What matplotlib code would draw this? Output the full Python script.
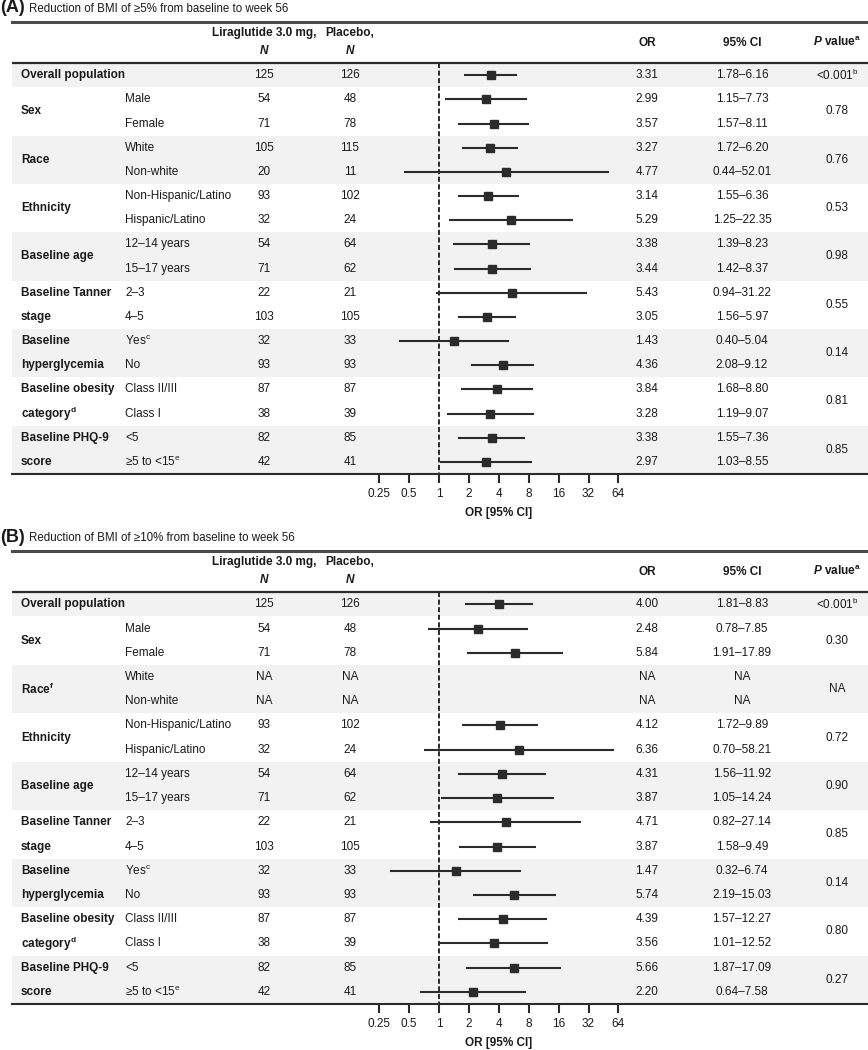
import numpy as np
import matplotlib.pyplot as plt
from matplotlib.ticker import NullLocator

plt.rcParams['font.family'] = ['Liberation Sans', 'DejaVu Sans']
plt.rcParams['mathtext.fontset'] = 'custom'
plt.rcParams['mathtext.rm'] = 'Liberation Sans'
plt.rcParams['mathtext.it'] = 'Liberation Sans:italic:bold'
plt.rcParams['mathtext.bf'] = 'Liberation Sans:bold'

# ---- data ----
groups_a = ["Overall population", "Sex", "Race", "Ethnicity", "Baseline age",
            "Baseline Tanner\nstage", "Baseline\nhyperglycemia",
            "Baseline obesity\ncategory$^{\\mathregular{d}}$", "Baseline PHQ-9\nscore"]
groups_b = ["Overall population", "Sex", "Race$^{\\mathregular{f}}$", "Ethnicity", "Baseline age",
            "Baseline Tanner\nstage", "Baseline\nhyperglycemia",
            "Baseline obesity\ncategory$^{\\mathregular{d}}$", "Baseline PHQ-9\nscore"]
subgroups = ["", "Male", "Female", "White", "Non-white", "Non-Hispanic/Latino",
             "Hispanic/Latino", "12–14 years", "15–17 years", "2–3", "4–5",
             "Yes$^{\\mathregular{c}}$", "No", "Class II/III", "Class I", "<5",
             "≥5 to <15$^{\\mathregular{e}}$"]

lira_n_a = [125, 54, 71, 105, 20, 93, 32, 54, 71, 22, 103, 32, 93, 87, 38, 82, 42]
pbo_n_a = [126, 48, 78, 115, 11, 102, 24, 64, 62, 21, 105, 33, 93, 87, 39, 85, 41]
or_a = [3.31, 2.99, 3.57, 3.27, 4.77, 3.14, 5.29, 3.38, 3.44, 5.43, 3.05, 1.43, 4.36, 3.84, 3.28, 3.38, 2.97]
lo_a = [1.78, 1.15, 1.57, 1.72, 0.44, 1.55, 1.25, 1.39, 1.42, 0.94, 1.56, 0.40, 2.08, 1.68, 1.19, 1.55, 1.03]
hi_a = [6.16, 7.73, 8.11, 6.20, 52.01, 6.36, 22.35, 8.23, 8.37, 31.22, 5.97, 5.04, 9.12, 8.80, 9.07, 7.36, 8.55]
p_a = ["<0.001$^{\\mathregular{b}}$", "0.78", "0.76", "0.53", "0.98", "0.55", "0.14", "0.81", "0.85"]

lira_n_b = [125, 54, 71, None, None, 93, 32, 54, 71, 22, 103, 32, 93, 87, 38, 82, 42]
pbo_n_b = [126, 48, 78, None, None, 102, 24, 64, 62, 21, 105, 33, 93, 87, 39, 85, 41]
or_b = [4.00, 2.48, 5.84, None, None, 4.12, 6.36, 4.31, 3.87, 4.71, 3.87, 1.47, 5.74, 4.39, 3.56, 5.66, 2.20]
lo_b = [1.81, 0.78, 1.91, None, None, 1.72, 0.70, 1.56, 1.05, 0.82, 1.58, 0.32, 2.19, 1.57, 1.01, 1.87, 0.64]
hi_b = [8.83, 7.85, 17.89, None, None, 9.89, 58.21, 11.92, 14.24, 27.14, 9.49, 6.74, 15.03, 12.27, 12.52, 17.09, 7.58]
p_b = ["<0.001$^{\\mathregular{b}}$", "0.30", "NA", "0.72", "0.90", "0.85", "0.14", "0.80", "0.27"]

ticks = [0.25, 0.5, 1, 2, 4, 8, 16, 32, 64]
tick_labels = ["0.25", "0.5", "1", "2", "4", "8", "16", "32", "64"]

W, H = 868, 1050
FS = 8.5
TXT = '#1a1a1a'
DARK = '#2b2b2b'

fig = plt.figure(figsize=(W / 100, H / 100), dpi=100)


def fx(px):
    # pixel -> axes fraction (axes spans x 12..868)
    return (px - 12) / 856


def panel(top, bottom, letter, title, groups, lira, pbo, ors, los, his, pvals):
    ax = fig.add_axes([12 / W, 1 - bottom / H, 856 / W, (bottom - top) / H])
    ax.set_xscale('log', base=2)
    ax.set_xlim(2 ** ((12 - 439) / 29.9), 2 ** ((868 - 439) / 29.9))
    ax.set_ylim(16.5, -2.2)
    tr = ax.get_yaxis_transform()

    # shading of alternate groups
    for g in range(len(groups)):
        rows = [0] if g == 0 else [2 * g - 1, 2 * g]
        if g % 2 == 0:
            ax.axhspan(rows[0] - 0.5, rows[-1] + 0.5, color='#f2f2f2', zorder=0, lw=0)
        lines = groups[g].split("\n")
        if len(lines) == 1:
            ax.text(fx(21), np.mean(rows), lines[0], transform=tr, fontsize=FS,
                    fontweight='bold', va='center', ha='left', color=TXT)
        else:
            for r, s in zip(rows, lines):
                ax.text(fx(21), r, s, transform=tr, fontsize=FS,
                        fontweight='bold', va='center', ha='left', color=TXT)
        ax.text(fx(837), np.mean(rows), pvals[g], transform=tr, fontsize=FS,
                va='center', ha='center', color=TXT)

    for i in range(len(subgroups)):
        if subgroups[i]:
            ax.text(fx(125), i, subgroups[i], transform=tr, fontsize=FS,
                    va='center', ha='left', color=TXT)
        ax.text(fx(264), i, "NA" if lira[i] is None else str(lira[i]), transform=tr,
                fontsize=FS, va='center', ha='center', color=TXT)
        ax.text(fx(350), i, "NA" if pbo[i] is None else str(pbo[i]), transform=tr,
                fontsize=FS, va='center', ha='center', color=TXT)
        if ors[i] is None:
            ax.text(fx(647), i, "NA", transform=tr, fontsize=FS, va='center', ha='center', color=TXT)
            ax.text(fx(742), i, "NA", transform=tr, fontsize=FS, va='center', ha='center', color=TXT)
            continue
        ax.text(fx(647), i, "%.2f" % ors[i], transform=tr, fontsize=FS,
                va='center', ha='center', color=TXT)
        ax.text(fx(742), i, "%.2f–%.2f" % (los[i], his[i]), transform=tr, fontsize=FS,
                va='center', ha='center', color=TXT)
        ax.hlines(i, los[i], his[i], color=DARK, lw=1.5, zorder=3)
        ax.plot(ors[i], i, 's', color=DARK, ms=6, zorder=4)

    # reference line at OR = 1
    ax.vlines(1, -0.5, 16.5, color=DARK, lw=1.4, linestyles=(0, (2.6, 1.3)), zorder=2)

    # header
    ax.axhline(-0.5, color=DARK, lw=1.6)
    ax.text(fx(264), -1.74, "Liraglutide 3.0 mg,", transform=tr, fontsize=FS,
            fontweight='bold', va='center', ha='center', color=TXT)
    ax.text(fx(264), -1.03, "$\\mathit{N}$", transform=tr, fontsize=FS,
            va='center', ha='center', color=TXT)
    ax.text(fx(350), -1.74, "Placebo,", transform=tr, fontsize=FS,
            fontweight='bold', va='center', ha='center', color=TXT)
    ax.text(fx(350), -1.03, "$\\mathit{N}$", transform=tr, fontsize=FS,
            va='center', ha='center', color=TXT)
    ax.text(fx(647), -1.35, "OR", transform=tr, fontsize=FS,
            fontweight='bold', va='center', ha='center', color=TXT)
    ax.text(fx(742), -1.35, "95% CI", transform=tr, fontsize=FS,
            fontweight='bold', va='center', ha='center', color=TXT)
    ax.text(fx(837), -1.35, "$\\mathit{P}$ value$^{\\mathregular{a}}$", transform=tr,
            fontsize=FS, fontweight='bold', va='center', ha='center', color=TXT)

    # axes styling
    for s in ['left', 'right']:
        ax.spines[s].set_visible(False)
    ax.spines['top'].set_linewidth(2.2)
    ax.spines['top'].set_color('#4a4a4a')
    ax.spines['bottom'].set_linewidth(1.5)
    ax.spines['bottom'].set_color(DARK)
    ax.set_yticks([])
    ax.set_xticks(ticks)
    ax.set_xticklabels(tick_labels)
    ax.xaxis.set_minor_locator(NullLocator())
    ax.tick_params(axis='x', direction='out', length=6.5, width=1.5, color=DARK,
                   labelsize=FS, labelcolor=TXT, pad=3.5)
    ax.text(4, -0.086, "OR [95% CI]", transform=ax.get_xaxis_transform(), fontsize=FS,
            fontweight='bold', va='center', ha='center', color=TXT)

    fig.text(0, 1 - (top - 14) / H, letter, fontsize=13, fontweight='bold',
             va='center', ha='left', color=TXT)
    fig.text(29 / W, 1 - (top - 13) / H, title, fontsize=8.3,
             va='center', ha='left', color=TXT)
    return ax


panel(22, 474, "(A)", "Reduction of BMI of ≥5% from baseline to week 56",
      groups_a, lira_n_a, pbo_n_a, or_a, lo_a, hi_a, p_a)
panel(551, 1004, "(B)", "Reduction of BMI of ≥10% from baseline to week 56",
      groups_b, lira_n_b, pbo_n_b, or_b, lo_b, hi_b, p_b)

fig.savefig("out.png", dpi=100)
